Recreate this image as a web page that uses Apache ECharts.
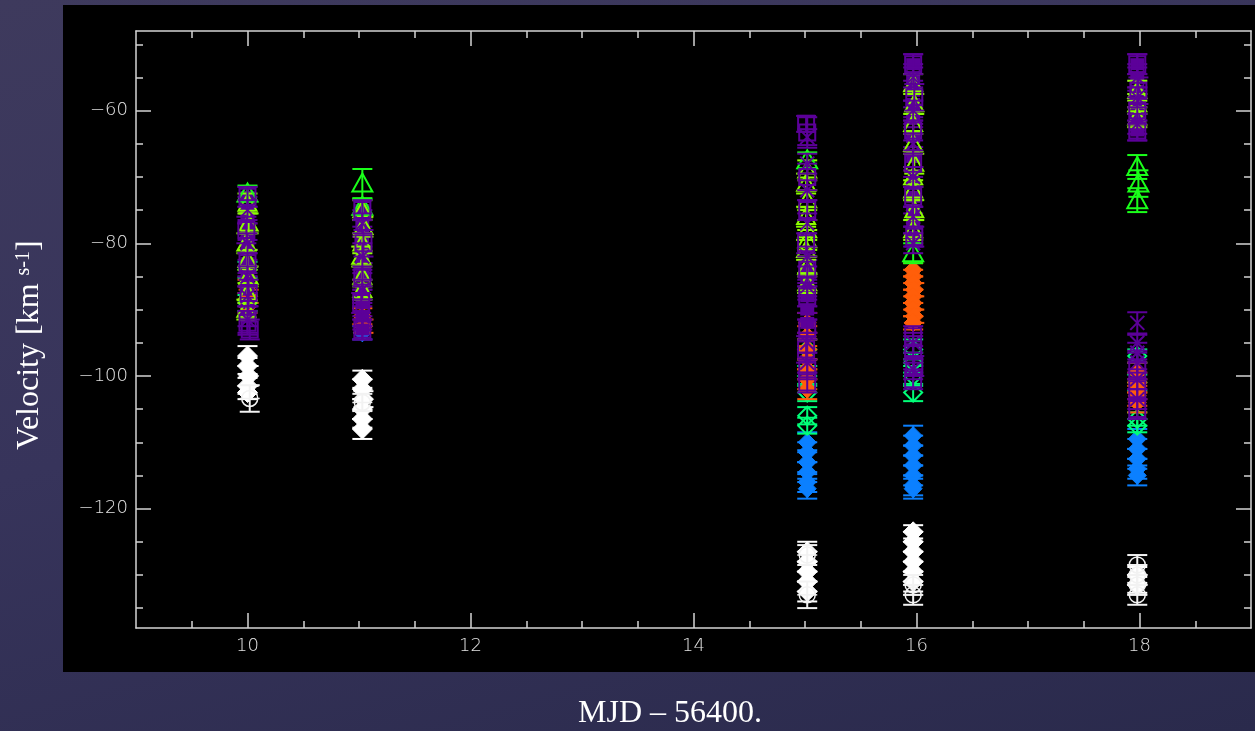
<!DOCTYPE html>
<html>
<head>
<meta charset="utf-8">
<script src="https://cdn.jsdelivr.net/npm/echarts@6/dist/echarts.min.js"></script>
<style>
  html, body { margin: 0; padding: 0; width: 1255px; height: 731px; overflow: hidden;
    background: linear-gradient(165deg, #3e3a5d 0%, #37345b 45%, #2a2a4c 100%); }
  #panel { position: absolute; left: 63px; top: 5px; width: 1192px; height: 667px; background: #000; }
  #chart { position: absolute; left: 0; top: 0; width: 1255px; height: 731px; }
</style>
</head>
<body>
<div id="panel"></div>
<div id="chart"></div>
<script>
// Axis ranges and tick positions (MJD - 56400, velocity in km/s)
const xRange = [9, 19];
const yRange = [-138, -48];
const xMajorTicks = [10, 12, 14, 16, 18];
const xMinorTicks = [9.5, 10.5, 11, 11.5, 12.5, 13, 13.5, 14.5, 15, 15.5, 16.5, 17, 17.5, 18.5];
const yMajorTicks = [-120, -100, -80, -60];
const yMinorTicks = [-135, -130, -125, -115, -110, -105, -95, -90, -85, -75, -70, -65, -55, -50];

// Each row: [epoch, velocity, velocity error]
const whiteFilled = [
  [10.0, -97, 1.5], [10.0, -98.5, 1.2], [10.01, -100, 1.5], [10.0, -101.5, 1.2], [10.0, -102.5, 1],
  [11.03, -100.5, 1.3], [11.03, -102, 1.5], [11.04, -103.5, 1.2], [11.03, -105, 1.5], [11.03, -106.5, 1.3], [11.03, -108, 1.5],
  [15.02, -126.5, 1.5], [15.02, -128, 1.5], [15.02, -129.5, 1.5], [15.02, -131, 1.5], [15.02, -132.5, 1.5],
  [15.97, -123.5, 1], [15.97, -125, 1.5], [15.97, -126.5, 1.5], [15.97, -128, 1.5], [15.97, -129.5, 1.5], [15.97, -131, 1.5],
  [17.98, -130, 1.2], [17.98, -131.5, 1.2]
];
const whiteOpen = [
  [10.02, -103.4, 2], [11.03, -104, 1.3],
  [15.02, -127, 1.5], [15.02, -133, 2],
  [15.97, -131.5, 1.5], [15.97, -133, 1.5],
  [17.98, -128.5, 1.5], [17.98, -130, 1.5], [17.98, -131.5, 1.5], [17.98, -133, 1.5]
];
const blueSpots = [
  [11.03, -93.5, 1],
  [15.02, -110, 1.5], [15.02, -111.5, 1.5], [15.02, -113, 1.8], [15.02, -114.5, 1.5], [15.02, -116, 1.5], [15.02, -117, 1.5],
  [15.97, -109, 1.5], [15.97, -110.5, 1.5], [15.97, -112, 1.5], [15.97, -113.5, 1.5], [15.97, -115, 1.5], [15.97, -116.5, 1.5], [15.97, -117, 1.5],
  [17.98, -109.5, 1.5], [17.98, -111, 1.5], [17.98, -112.5, 1.5], [17.98, -114, 1.5], [17.98, -115, 1.5]
];
const tealSpots = [
  [10.0, -84, 1.2], [10.0, -89, 1.2],
  [15.02, -96, 1.5], [15.02, -100, 1.5], [15.02, -102.5, 1.3], [15.02, -106, 1.3], [15.02, -107.5, 1.2],
  [15.97, -96, 1.5], [15.97, -98, 1.5], [15.97, -100, 1.5], [15.97, -102.5, 1.3],
  [17.98, -97, 1], [17.98, -101, 1.2], [17.98, -106.5, 1], [17.98, -107.5, 1]
];
const orangeSpots = [
  [10.0, -86.5, 1], [10.01, -88, 1], [10.0, -89.5, 1],
  [11.03, -91, 1.2], [11.04, -92.5, 1],
  [15.02, -92, 1.5], [15.02, -94, 1.5], [15.02, -96, 1.5], [15.02, -97.5, 1.5], [15.02, -99, 1.5], [15.02, -100.5, 1.5], [15.02, -102, 1.5],
  [15.97, -84, 1], [15.97, -85, 1], [15.97, -86, 1], [15.98, -87, 1], [15.97, -88, 1], [15.97, -89, 1], [15.97, -90, 1], [15.98, -91, 1], [15.97, -92, 1],
  [17.98, -99.5, 1.5], [17.98, -101, 1.5], [17.98, -102, 1.5], [17.98, -103, 1.5], [17.98, -104, 1.5]
];
const limeSpots = [
  [10.0, -74, 1.5], [10.01, -77, 1.5], [9.99, -80, 1.5], [10.0, -82.5, 1.5], [10.01, -85, 1.5], [10.0, -87.5, 1.5], [9.99, -90, 1.5],
  [11.03, -75, 1.5], [11.04, -77.5, 1.5], [11.03, -80, 1.5], [11.02, -82, 1.5], [11.03, -85, 1.5], [11.03, -87, 1.5],
  [15.02, -69, 1.5], [15.01, -71, 1.5], [15.02, -73.5, 1.5], [15.01, -76, 1.5], [15.02, -78, 1.5], [15.02, -79.5, 1.5], [15.01, -81, 1.5], [15.02, -83.5, 1.5], [15.02, -86, 1.5],
  [15.97, -56, 1.5], [15.98, -59, 1.5], [15.97, -62, 1.5], [15.97, -65, 1.5], [15.98, -68, 1.5], [15.97, -70, 1.5], [15.97, -72, 1.5], [15.98, -75, 1.5], [15.97, -78, 1.5],
  [17.98, -57, 1.5], [17.98, -59, 1.5], [17.98, -61, 1.5]
];
const greenSpots = [
  [10.0, -72.5, 1.2],
  [11.03, -71, 2.2], [11.03, -74.5, 1.2],
  [15.02, -67.5, 1.2],
  [15.97, -81.5, 1.5],
  [17.98, -68.5, 1.8], [17.99, -71, 2], [17.98, -73.5, 1.8]
];
const purpleFilled = [
  [10.0, -73, 1.5], [10.0, -75, 2], [10.0, -77, 1.5], [10.0, -79, 2], [10.0, -81, 1.5], [10.0, -83, 2], [10.0, -85, 1.5], [10.0, -87, 2], [10.0, -89, 1.5], [10.0, -91, 1.5],
  [11.03, -75, 1.5], [11.03, -77, 2], [11.03, -79, 1.5], [11.03, -81, 2], [11.03, -83, 1.5], [11.03, -85, 2], [11.03, -87, 1.5], [11.03, -89, 2], [11.03, -91, 1.5], [11.03, -93, 1.5],
  [15.02, -84, 1.5], [15.02, -86, 1.5], [15.02, -88, 1.5], [15.02, -90, 1.5], [15.02, -92, 1.5],
  [15.97, -53, 1.5], [15.97, -55, 2], [15.97, -57, 1.5], [15.97, -59, 2], [15.97, -61, 1.5], [15.97, -64, 2], [15.97, -67, 1.5], [15.97, -71, 2], [15.97, -73, 1.5], [15.97, -75, 1.5], [15.97, -77, 1.5], [15.97, -79, 1.5],
  [17.98, -53, 1.5], [17.98, -55, 2], [17.98, -57, 1.5], [17.98, -59, 1.5], [17.98, -61, 1.5], [17.98, -63, 1.5]
];
const purpleSquares = [
  [10.0, -73, 1.5], [9.99, -78, 2], [10.0, -83, 1.5], [10.01, -87.5, 2], [10.0, -92, 1.8], [10.02, -93, 1.5],
  [11.03, -75, 1.5], [11.04, -80, 2], [11.03, -85, 1.5], [11.02, -89, 1.5], [11.03, -93, 1.5],
  [15.02, -63.3, 2.3], [15.01, -62, 1.2], [15.02, -70, 2], [15.02, -75, 1.5], [15.01, -80, 1.5], [15.02, -84, 2], [15.02, -88, 1.5], [15.02, -93, 1.5], [15.01, -96, 2], [15.02, -99, 1.5], [15.02, -101, 1.5],
  [15.97, -53, 1.5], [15.98, -58, 2], [15.97, -63, 1.5], [15.97, -68, 2], [15.97, -73, 1.5], [15.98, -79, 1.5], [15.97, -94, 1.5], [15.97, -96, 2], [15.98, -98.5, 1.5], [15.97, -100.5, 1.5],
  [17.98, -53, 1.5], [17.99, -57, 2], [17.98, -60, 2], [17.98, -63, 1.5], [17.98, -99, 1.5], [17.98, -102, 1.5], [17.98, -105, 1.5]
];
const purpleCrosses = [
  [10.0, -75, 1.5], [10.0, -80, 1.5], [10.0, -85, 1.5], [10.0, -88, 1.5], [10.0, -91.5, 2],
  [11.03, -77, 1.5], [11.03, -82, 2], [11.03, -87, 1.5], [11.03, -91, 2],
  [15.02, -64, 1.2], [15.02, -68, 1.5], [15.02, -72, 1.5], [15.02, -77, 1.5], [15.02, -82, 1.5], [15.02, -86.5, 1.5], [15.02, -95, 1.5], [15.02, -98, 1.5],
  [15.97, -55, 1.5], [15.97, -60, 1.5], [15.97, -65, 1.5], [15.97, -70, 1.5], [15.97, -76, 1.5], [15.97, -80, 1.5], [15.97, -95, 1.5], [15.97, -99, 1.5],
  [17.98, -55, 1.5], [17.98, -58, 1.5], [17.98, -62, 1.5], [17.98, -92, 1.6], [17.98, -95, 1.2], [17.98, -96.5, 1.5], [17.98, -98, 1.5], [17.98, -100.5, 1.5], [17.98, -103.5, 1.5]
];

// Drawing styles for each group (drawn in this order)
const layers = [
  { name: 'white',      rows: whiteFilled,   color: '#ffffff', symbol: 'diamondFill', size: 10 },
  { name: 'white open', rows: whiteOpen,     color: '#f2f2f2', symbol: 'circlePlus',  size: 8 },
  { name: 'blue',       rows: blueSpots,     color: '#0b80ff', symbol: 'diamondFill', size: 9 },
  { name: 'teal',       rows: tealSpots,     color: '#00ff78', symbol: 'diamond',     size: 9 },
  { name: 'orange',     rows: orangeSpots,   color: '#ff5e0a', symbol: 'diamondFill', size: 9 },
  { name: 'purple',     rows: purpleFilled,  color: '#5c0099', symbol: 'squareFill',  size: 6 },
  { name: 'lime',       rows: limeSpots,     color: '#8cff00', symbol: 'triangle',    size: 9 },
  { name: 'green',      rows: greenSpots,    color: '#1aff1a', symbol: 'triangle',    size: 10 },
  { name: 'purple sq',  rows: purpleSquares, color: '#5c0099', symbol: 'square',      size: 8 },
  { name: 'purple x',   rows: purpleCrosses, color: '#5c0099', symbol: 'cross',       size: 7 }
];

const CAP = 10;
const LW = 2;

function symbolShape(kind, cx, cy, s, color) {
  const stroke = { stroke: color, lineWidth: LW, fill: 'none' };
  switch (kind) {
    case 'diamondFill':
      return [{ type: 'polygon', shape: { points: [[cx, cy - s], [cx + s, cy], [cx, cy + s], [cx - s, cy]] },
                style: { fill: color, stroke: color, lineWidth: 1 } }];
    case 'diamond':
      return [{ type: 'polygon', shape: { points: [[cx, cy - s], [cx + s, cy], [cx, cy + s], [cx - s, cy]] }, style: stroke }];
    case 'triangle':
      return [{ type: 'polygon', shape: { points: [[cx, cy - s], [cx + s, cy + s * 0.8], [cx - s, cy + s * 0.8]] }, style: stroke }];
    case 'square':
      return [{ type: 'rect', shape: { x: cx - s, y: cy - s, width: 2 * s, height: 2 * s }, style: stroke }];
    case 'squareFill':
      return [{ type: 'rect', shape: { x: cx - s - 1, y: cy - s, width: 2 * s + 2, height: 2 * s }, style: { fill: color } }];
    case 'cross':
      return [
        { type: 'line', shape: { x1: cx - s, y1: cy - s, x2: cx + s, y2: cy + s }, style: stroke },
        { type: 'line', shape: { x1: cx - s, y1: cy + s, x2: cx + s, y2: cy - s }, style: stroke }
      ];
    case 'circlePlus':
      return [
        { type: 'circle', shape: { cx: cx, cy: cy, r: s }, style: { stroke: color, lineWidth: 1.5, fill: 'none' } },
        { type: 'line', shape: { x1: cx - s - 2, y1: cy, x2: cx + s + 2, y2: cy }, style: { stroke: color, lineWidth: 1.5 } }
      ];
  }
  return [];
}

function layerSeries(layer) {
  return {
    type: 'custom',
    name: layer.name,
    xAxisIndex: 0,
    yAxisIndex: 0,
    data: layer.rows,
    encode: { x: 0, y: 1 },
    animation: false,
    renderItem: function (params, api) {
      const x = api.value(0), v = api.value(1), e = api.value(2);
      const c = api.coord([x, v]);
      const hi = api.coord([x, v + e]);
      const lo = api.coord([x, v - e]);
      const ln = { stroke: layer.color, lineWidth: LW };
      const children = [
        { type: 'line', shape: { x1: c[0], y1: hi[1], x2: c[0], y2: lo[1] }, style: ln },
        { type: 'line', shape: { x1: c[0] - CAP, y1: hi[1], x2: c[0] + CAP, y2: hi[1] }, style: ln },
        { type: 'line', shape: { x1: c[0] - CAP, y1: lo[1], x2: c[0] + CAP, y2: lo[1] }, style: ln }
      ].concat(symbolShape(layer.symbol, c[0], c[1], layer.size, layer.color));
      return { type: 'group', children: children };
    }
  };
}

const AXIS_COLOR = '#d4d4d4';
const labelFont = { color: '#e2e2e2', fontFamily: 'DejaVu Sans', fontSize: 18, fontWeight: 200 };
const fmt = v => (v < 0 ? '\u2212' + (-v) : String(v));

function xAxisDef(pos, ticks, len, withLine, withLabels) {
  return {
    type: 'value', position: pos, min: xRange[0], max: xRange[1],
    axisLine: { show: withLine, onZero: false, lineStyle: { color: AXIS_COLOR, width: 1.5 } },
    axisTick: { show: true, inside: true, length: len, customValues: ticks, lineStyle: { color: AXIS_COLOR, width: 1.5 } },
    axisLabel: Object.assign({ show: withLabels, customValues: ticks, margin: 9, formatter: fmt }, labelFont),
    splitLine: { show: false }
  };
}
function yAxisDef(pos, ticks, len, withLine, withLabels) {
  return {
    type: 'value', position: pos, min: yRange[0], max: yRange[1],
    axisLine: { show: withLine, onZero: false, lineStyle: { color: AXIS_COLOR, width: 1.5 } },
    axisTick: { show: true, inside: true, length: len, customValues: ticks, lineStyle: { color: AXIS_COLOR, width: 1.5 } },
    axisLabel: Object.assign({ show: withLabels, customValues: ticks, margin: 8, formatter: fmt }, labelFont),
    splitLine: { show: false }
  };
}

const chart = echarts.init(document.getElementById('chart'), null, { renderer: 'canvas' });
chart.setOption({
  backgroundColor: 'transparent',
  animation: false,
  grid: { left: 136, right: 4, top: 31, bottom: 103, containLabel: false },
  xAxis: [
    xAxisDef('bottom', xMajorTicks, 15, true, true),
    xAxisDef('top', xMajorTicks, 15, true, false),
    xAxisDef('bottom', xMinorTicks, 7, false, false),
    xAxisDef('top', xMinorTicks, 7, false, false)
  ],
  yAxis: [
    yAxisDef('left', yMajorTicks, 15, true, true),
    yAxisDef('right', yMajorTicks, 15, true, false),
    yAxisDef('left', yMinorTicks, 7, false, false),
    yAxisDef('right', yMinorTicks, 7, false, false)
  ],
  graphic: [
    {
      type: 'text', x: 670, y: 714,
      style: { text: 'MJD \u2013 56400.', fontFamily: 'Liberation Serif', fontSize: 32, fill: '#ffffff',
               align: 'center', verticalAlign: 'middle' }
    },
    {
      type: 'text', x: 30, y: 345, rotation: Math.PI / 2,
      style: {
        text: 'Velocity [km {sup|s-1}]',
        fontFamily: 'Liberation Serif', fontSize: 32, lineHeight: 32, fill: '#ffffff',
        align: 'center', verticalAlign: 'middle',
        rich: { sup: { fontFamily: 'Liberation Serif', fontSize: 20, lineHeight: 20, fill: '#ffffff', verticalAlign: 'top' } }
      }
    }
  ],
  series: layers.map(layerSeries)
});
</script>
</body>
</html>
